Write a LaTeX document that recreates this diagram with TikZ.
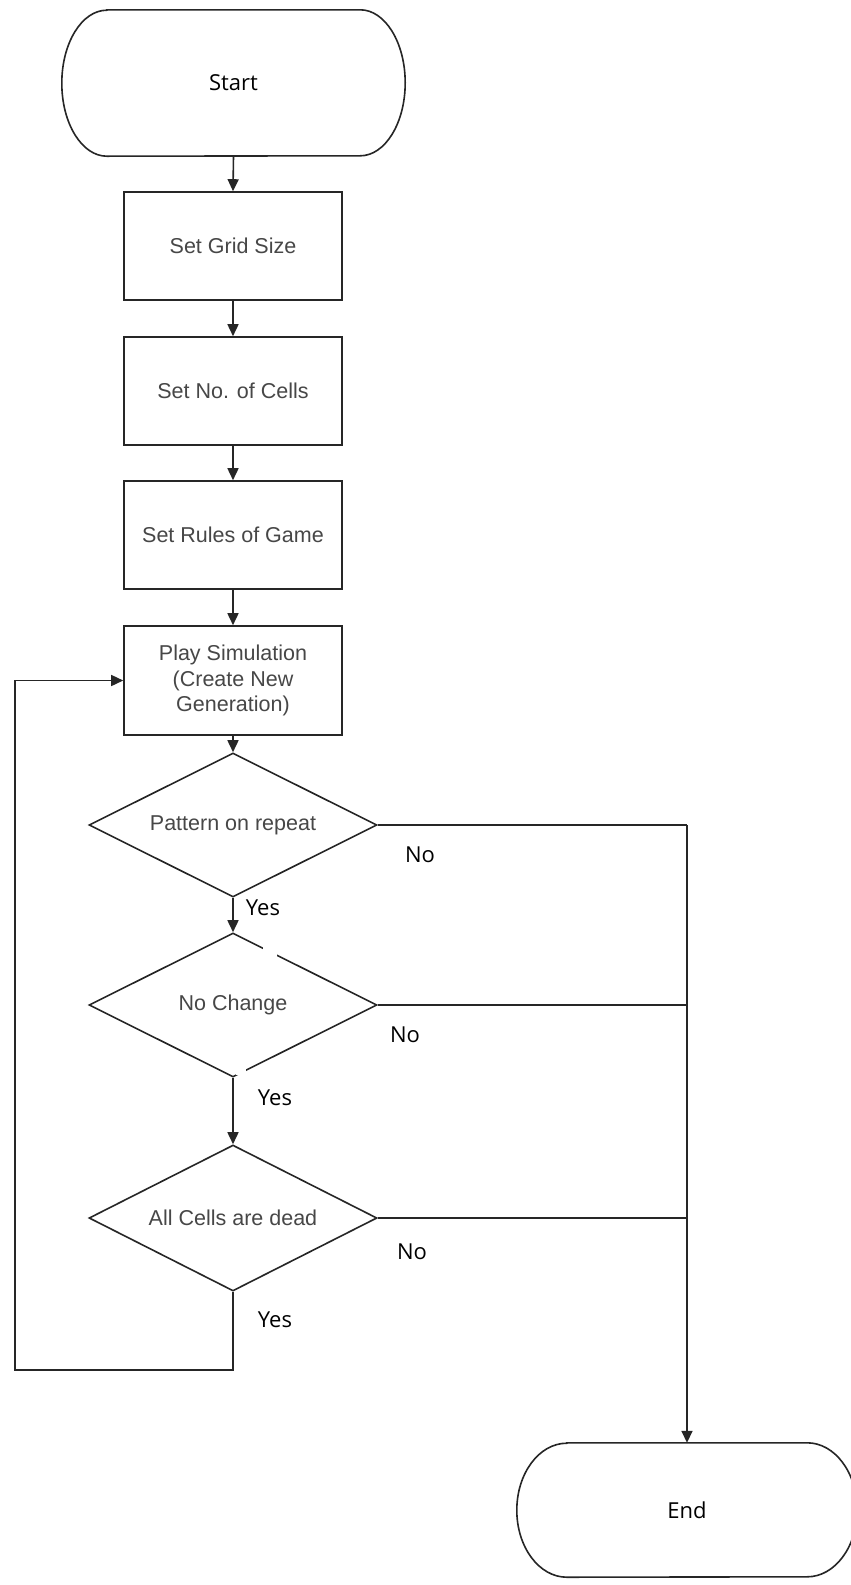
\documentclass[tikz,border=0pt]{standalone}
\usepackage{fontspec}
\setmainfont{Liberation Sans}
\newfontfamily\lblfont{Open Sans}
\usetikzlibrary{arrows.meta,shapes.geometric}
\begin{document}
\begin{tikzpicture}[x=1pt,y=-1pt,
  line/.style={draw=black!85,line width=1.6pt},
  arr/.style={line,-{Triangle[length=12pt,width=11pt]}},
  procbox/.style={draw=black!85,line width=1.6pt,minimum width=218pt,minimum height=108pt,inner sep=0pt,align=center,font=\fontsize{21.5}{25.5}\selectfont,text=black!72},
  decision/.style={diamond,aspect=2,draw=black!85,line width=1.6pt,minimum width=288pt,minimum height=144pt,inner sep=0pt,text=black!72,font=\fontsize{21.5}{25.5}\selectfont},
  term/.style={draw=none,inner sep=0pt,font=\lblfont\fontsize{22}{26}\selectfont},
  lbl/.style={inner sep=0pt,font=\lblfont\fontsize{22}{26}\selectfont}]
\fill[white] (0,0) rectangle (851,1585);
\useasboundingbox (0,0) rectangle (851,1585);

% terminals
\node[term,minimum width=343pt,minimum height=146pt] (start) at (233.5,83) {Start};
\draw[line] ([xshift=45pt]start.north west) -- ([xshift=-45pt]start.north east)
  arc[start angle=-90,end angle=90,x radius=45,y radius=73]
  -- ([xshift=45pt]start.south west)
  arc[start angle=90,end angle=270,x radius=45,y radius=73] -- cycle;

\node[term,minimum width=340pt,minimum height=134pt] (endn) at (687,1510) {End};
\draw[line] ([xshift=50pt]endn.north west) -- ([xshift=-50pt]endn.north east)
  arc[start angle=-90,end angle=90,x radius=50,y radius=67]
  -- ([xshift=50pt]endn.south west)
  arc[start angle=90,end angle=270,x radius=50,y radius=67] -- cycle;

% process boxes
\node[procbox] (r1) at (233,246) {Set Grid Size};
\node[procbox] (r2) at (233,391) {Set No. of Cells};
\node[procbox] (r3) at (233,535) {Set Rules of Game};
\node[procbox,minimum height=109pt] (r4) at (233,680.5) {Play Simulation\\(Create New\\Generation)};

% decisions
\node[decision] (d1) at (233,825) {Pattern on repeat};
\node[decision] (d2) at (233,1005) {No Change};
\node[decision,minimum height=146pt] (d3) at (233,1218) {All Cells are dead};

% small gaps in the reference outline
\fill[white] (263,943) rectangle (277,960);
\fill[white] (236,1066) rectangle (246,1075);

% connectors
\draw[arr] (start.south) -- (r1.north);
\draw[arr] (r1.south) -- (r2.north);
\draw[arr] (r2.south) -- (r3.north);
\draw[arr] (r3.south) -- (r4.north);
\draw[arr] (r4.south) -- (d1.north);
\draw[arr] (d1.south) -- (d2.north);
\draw[arr] (d2.south) -- (d3.north);

\coordinate (j1) at (687,825);
\coordinate (j2) at (687,1005);
\coordinate (j3) at (687,1218);
\draw[line] (d1.east) -- (j1);
\draw[line] (d2.east) -- (j2);
\draw[line] (d3.east) -- (j3);
\draw[arr] (j1) -- (endn.north);

\coordinate (lb) at (15,1370);
\draw[arr] (d3.south) |- (lb) |- (r4.west);

% labels
\node[lbl] (no1) at (420,855) {No};
\node[lbl] (yes1) at (263,908) {Yes};
\node[lbl] (no2) at (405,1035) {No};
\node[lbl] (yes2) at (275,1098) {Yes};
\node[lbl] (no3) at (412,1252) {No};
\node[lbl] (yes3) at (275,1320) {Yes};
\end{tikzpicture}
\end{document}
